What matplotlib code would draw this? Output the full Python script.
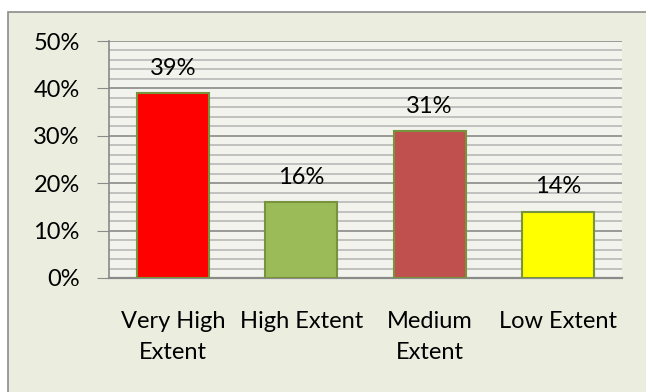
import matplotlib.pyplot as plt
from matplotlib.patches import Rectangle
from matplotlib.ticker import MultipleLocator, FuncFormatter

categories = ["Very High\nExtent", "High Extent", "Medium\nExtent", "Low Extent"]
shares = [39, 16, 31, 14]
bar_colors = ["#FF0000", "#9BBB59", "#C0504D", "#FFFF00"]

plt.rcParams['font.family'] = ['Lato', 'DejaVu Sans']

fig = plt.figure(figsize=(6.46, 3.92), dpi=100)
fig.patch.set_facecolor("white")

# outer chart frame (runs off the right and bottom edges)
fig.patches.append(Rectangle((8 / 646, -0.1), 1.0, 1 - 12 / 392 + 0.1,
                             transform=fig.transFigure, facecolor="#EBEEDF",
                             edgecolor="#8C8C8C", linewidth=1.2, zorder=-10))

ax = fig.add_axes([109 / 646, 1 - 278 / 392, 513 / 646, 237 / 392])
ax.set_facecolor("#F1F3EC")

x = range(len(categories))
ax.bar(x, shares, width=0.56, color=bar_colors, edgecolor="#77933C",
       linewidth=1.5, zorder=3)
for xi, v in zip(x, shares):
    ax.text(xi, v + 3.0, f"{v}%", ha="center", va="bottom", fontsize=17,
            color="black")

ax.set_xlim(-0.5, len(categories) - 0.5)
ax.set_ylim(0, 50)
ax.yaxis.set_major_locator(MultipleLocator(10))
ax.yaxis.set_minor_locator(MultipleLocator(2))
ax.yaxis.set_major_formatter(FuncFormatter(lambda v, _: f"{v:.0f}%"))

ax.grid(which="minor", axis="y", color="#B8B8B8", linewidth=1.2, zorder=1)
ax.grid(which="major", axis="y", color="#8A8A8A", linewidth=1.2, zorder=1)

ax.set_xticks(list(x))
ax.set_xticklabels(categories, fontsize=17, linespacing=1.55)
ax.tick_params(axis="x", length=0, pad=24)
ax.tick_params(axis="y", which="major", length=9, color="#8A8A8A",
               labelsize=17, pad=12)
ax.tick_params(axis="y", which="minor", length=0)

for side in ["top", "right"]:
    ax.spines[side].set_visible(False)
ax.spines["left"].set_color("#8A8A8A")
ax.spines["left"].set_linewidth(1.2)
ax.spines["bottom"].set_color("#8A8A8A")
ax.spines["bottom"].set_linewidth(1.6)

fig.savefig("out.png", dpi=100)
